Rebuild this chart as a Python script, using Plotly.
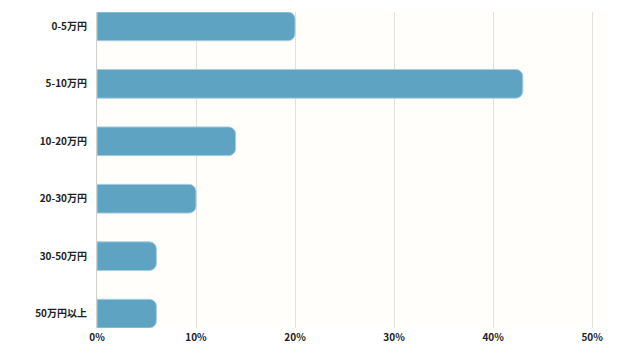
import plotly.graph_objects as go

categories = ["0-5万円", "5-10万円", "10-20万円", "20-30万円", "30-50万円", "50万円以上"]
values = [20, 43, 14, 10, 6, 6]
tick_vals = [0, 10, 20, 30, 40, 50]
tick_text = ["0%", "10%", "20%", "30%", "40%", "50%"]

fig = go.Figure(go.Bar(
    x=values, y=categories, orientation="h",
    marker=dict(color="#5fa3c2", line=dict(color="#a9cfe0", width=1), cornerradius=7),
    width=0.5, hoverinfo="skip",
))

font = "Noto Sans CJK JP"
fig.update_layout(
    width=632, height=349,
    margin=dict(l=89, r=33, t=4, b=29),
    paper_bgcolor="white", plot_bgcolor="#fffefb",
    showlegend=False,
    font=dict(family=font, size=10, color="#222"),
    xaxis=dict(range=[0, 51.5], tickvals=tick_vals, ticktext=tick_text,
               showgrid=True, gridcolor="#e4e1dc", gridwidth=1,
               zeroline=False, showline=False, ticks="", ticklabelstandoff=2,
               tickfont=dict(family=font, size=10, color="#222", weight="bold")),
    yaxis=dict(range=[5.25, -0.25], categoryorder="array", categoryarray=categories,
               showgrid=False, zeroline=False, showline=True, linecolor="#d0d0d0",
               linewidth=1, ticks="", ticklabelstandoff=7,
               tickfont=dict(family=font, size=10, color="#222", weight="bold")),
)
fig.write_html("out.html")
